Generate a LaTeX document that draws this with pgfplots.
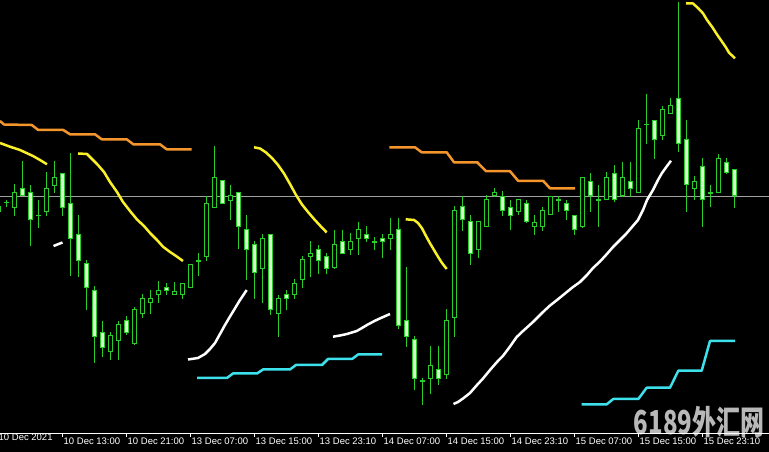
\documentclass[border=0pt]{standalone}
\usepackage{fontspec}
\setmainfont{Liberation Sans}
\newfontfamily\cjk{Noto Sans CJK SC}
\usepackage{graphicx}
\usepackage{pgfplots}
\usepackage{pgfplotstable}
\pgfplotsset{compat=1.18}
\definecolor{cgreen}{RGB}{40,205,40}
\definecolor{cpale}{RGB}{215,255,205}
\definecolor{lorange}{RGB}{245,150,45}
\definecolor{lyellow}{RGB}{250,240,40}
\definecolor{lcyan}{RGB}{60,225,235}
\definecolor{lgray}{RGB}{160,160,160}

% candles: x in px, o h l c as pixel rows from top
\pgfplotstableread{
x o h l c
-2 206.7 204 213 211.7
6 202.3 200 206.7 202.3
14 207.3 184.3 216 192.3
22 188.7 161.7 196 196
30 192.3 185 246 219.3
38 215.3 200 227.3 215.3
46 211.7 172.7 216 188.3
54 185.7 161.7 192.7 177.3
62 173.3 173.3 216 207.7
70 203.3 153.3 276 238.7
78 234.3 215 276.7 260.3
86 264 260 310 287.3
94 291 286.7 362.7 336.7
102 332.3 321.7 356.7 347.3
110 351.3 332.3 359.3 336
118 340.7 321 360 325
126 320.7 316.7 335 332.3
134 343.3 307 345 309.3
142 313.3 294.3 317.7 298.3
150 302.3 290 313.3 298.3
158 294.3 281.7 302.3 291
166 287.3 283.3 294.3 291
174 294.3 282.3 294.3 291.3
182 294.3 283.3 298.3 283.3
190 287.3 264.3 287.3 264.3
198 260.7 253.3 275.7 260.7
206 256.7 196.7 261 203.3
214 207.3 146.7 207.3 177.3
222 181 181 203.3 203.3
230 200.7 185 220 196
238 192.3 192.3 249 226.7
246 230 215 280 249.3
254 245 241.7 298.3 272.3
262 268.3 234.3 302.3 238.3
270 234.3 234.3 314.3 310
278 313.3 295 336.7 298.3
286 294.3 290 310 298.3
294 294.3 279 298.3 283.3
302 280 256.7 287.7 260
310 256.7 241.7 276.7 253.3
318 249.3 245 273.3 260.7
326 256.7 253.3 273.3 268.3
334 267.7 230 269 245
342 241.7 230 254 253.3
350 250 233.3 254.3 241.7
358 238.3 222.3 254.3 230
366 234.3 226.7 241.7 238.3
374 241.7 237.7 250 241.7
382 238.3 234 257.3 241.7
390 238.7 218.3 250 234.3
398 230 218.3 328.3 326
406 321 267.7 346.7 336.7
414 340 336 390 379
422 380.7 378.3 405 380.7
430 379 346.7 394 366
438 370 346.7 385 379
446 375 309.3 378.3 321
454 317.3 206.7 336.7 210.7
462 206.7 196.7 230.7 220
470 221.7 215 265 254
478 250 221.7 257.3 221.7
486 226.7 195 226.7 200
494 196 188.3 196.7 192.3
502 196.7 191.7 216 211
510 207.7 200 230 215.2
518 211.3 200 215 200
526 203.3 200.7 222.3 222
534 226.7 215 234.5 222.3
542 226.7 207 230.3 211
550 215 196.7 215 196.7
558 200 196.7 211.7 200
566 203.5 200 219.5 210.7
574 215.3 215.3 234.5 230
582 226.7 177 228 177.3
590 181.7 173 212 196
598 200 185 227 200
606 200 172.7 200 177.3
614 173.3 165 201.7 200
622 196 162 196.7 177.3
630 181.7 162 196.7 188.3
638 192.7 120 192.7 128.3
646 124.3 94.3 143.5 124.3
654 120.7 120.7 158.3 139.3
662 136 106 139.3 109.3
670 113.3 98.3 113.3 106
678 98.3 2.7 151.7 143.3
686 139.3 120 211.7 185
694 188.3 176.7 200 181.7
702 166.7 158.3 226.7 200
710 192.7 185 206.7 192.7
718 192.7 154 192.7 158.3
726 162.7 158.3 173.3 172.7
734 170 170 207.3 196
}\candles

\begin{document}
\begin{tikzpicture}
\path[use as bounding box, fill=black] (0pt,-19pt) rectangle (769pt,433pt);
\begin{axis}[
  at={(0pt,0pt)}, anchor=south west,
  width=769pt, height=433pt, scale only axis,
  xmin=0, xmax=769, ymin=0, ymax=433,
  clip mode=individual,
  axis y line=none,
  axis x line*=bottom,
  x axis line style={white, line width=0.8pt, -},
  xtick={62,126,190,254,318,382,446,510,574,638,702},
  xticklabels={10 Dec 13:00,10 Dec 21:00,13 Dec 07:00,13 Dec 15:00,13 Dec 23:10,14 Dec 07:00,14 Dec 15:00,14 Dec 23:10,15 Dec 07:00,15 Dec 15:00,15 Dec 23:10},
  extra x ticks={0},
  extra x tick labels={10 Dec 2021},
  extra x tick style={major tick length=0pt, xticklabel style={xshift=-3pt}},
  tick style={white, line width=0.8pt},
  major tick length=4pt, tick align=outside,
  xticklabel style={anchor=north west, text=white, font=\fontsize{9.5}{10}\selectfont, inner sep=0pt, xshift=1.5pt, yshift=-1pt},
]
% bid line
\addplot[lgray, line width=0.8pt, mark=none, forget plot] coordinates {(0,237) (769,237)};

% wicks
\addplot[forget plot, draw=none, mark=none,
  error bars/.cd, y dir=both, y explicit, error mark=none,
  error bar style={draw=cgreen, line width=1pt}]
  table[x=x, y expr={433-(\thisrow{h}+\thisrow{l})/2}, y error expr={(\thisrow{l}-\thisrow{h})/2+0.3}] {\candles};
% body outlines
\addplot[forget plot, draw=none, mark=none,
  error bars/.cd, y dir=both, y explicit, error mark=none,
  error bar style={draw=cgreen, line width=5pt}]
  table[x=x, y expr={433-(\thisrow{o}+\thisrow{c})/2}, y error expr={abs(\thisrow{c}-\thisrow{o})/2+0.5}] {\candles};
% bear bodies (filled)
\addplot[forget plot, draw=none, mark=none,
  restrict expr to domain={\thisrow{c}>\thisrow{o}}{0.5:1.5},
  error bars/.cd, y dir=both, y explicit, error mark=none,
  error bar style={draw=cpale, line width=3pt}]
  table[x=x, y expr={433-(\thisrow{o}+\thisrow{c})/2}, y error expr={abs(\thisrow{c}-\thisrow{o})/2-0.5}] {\candles};
% bull bodies (hollow)
\addplot[forget plot, draw=none, mark=none,
  restrict expr to domain={\thisrow{c}<\thisrow{o}}{0.5:1.5},
  error bars/.cd, y dir=both, y explicit, error mark=none,
  error bar style={draw=black, line width=3pt}]
  table[x=x, y expr={433-(\thisrow{o}+\thisrow{c})/2}, y error expr={abs(\thisrow{c}-\thisrow{o})/2-0.5}] {\candles};

% orange upper envelope
\addplot[lorange, line width=2.5pt, line join=round, mark=none, forget plot]
  table[x=x, y expr=433-\thisrow{y}, row sep=\\]{x y\\ 0 121\\ 4 124.5\\ 31.7 125\\ 38.3 130\\ 63.3 130\\ 70 134.3\\ 95 134.3\\ 101.7 139.3\\ 126.7 139.3\\ 133.3 144.3\\ 160 144.3\\ 166.7 149.3\\ 191.7 149.3\\};
\addplot[lorange, line width=2.5pt, line join=round, mark=none, forget plot]
  table[x=x, y expr=433-\thisrow{y}, row sep=\\]{x y\\ 389.3 147.3\\ 415 147.3\\ 421.7 152.3\\ 446.7 152.3\\ 454 162.3\\ 477.3 162.3\\ 486 171.2\\ 510 171.2\\ 518.3 181\\ 543.3 181\\ 550 188.3\\ 575 188.3\\};

% yellow
\addplot[lyellow, line width=2.5pt, line join=round, mark=none, forget plot]
  table[x=x, y expr=433-\thisrow{y}, row sep=\\]{x y\\ 0 143\\ 10 146.7\\ 20 150\\ 33 156\\ 40 160\\ 47 164.3\\};
\addplot[lyellow, line width=2.5pt, line join=round, mark=none, forget plot]
  table[x=x, y expr=433-\thisrow{y}, row sep=\\]{x y\\ 78 153.5\\ 87 154\\ 97 164\\ 104 172\\ 110 182\\ 117 192\\ 123 202\\ 130 211\\ 137 219.5\\ 144 226\\ 150 233\\ 157 240\\ 163 246.7\\ 170 252\\ 176 256\\ 183 261\\};
\addplot[lyellow, line width=2.5pt, line join=round, mark=none, forget plot]
  table[x=x, y expr=433-\thisrow{y}, row sep=\\]{x y\\ 254 147.3\\ 260 148.5\\ 266 152.5\\ 272 158\\ 278 165\\ 284 173.5\\ 290 184\\ 296 195\\ 302 204.5\\ 308 212\\ 314 219\\ 320 225.5\\ 326.7 232.5\\};
\addplot[lyellow, line width=2.5pt, line join=round, mark=none, forget plot]
  table[x=x, y expr=433-\thisrow{y}, row sep=\\]{x y\\ 405.7 219.3\\ 414 220\\ 418 223\\ 422 228.3\\ 426 236\\ 430 243.3\\ 434 250\\ 438 256.7\\ 442 263\\ 446.7 269\\};
\addplot[lyellow, line width=2.5pt, line join=round, mark=none, forget plot]
  table[x=x, y expr=433-\thisrow{y}, row sep=\\]{x y\\ 686 3.3\\ 693 3.5\\ 698 8\\ 703 13.3\\ 707 20\\ 712 26.7\\ 717 34.5\\ 722 41.7\\ 726 47.5\\ 729 52.7\\ 735 58.3\\};

% white
\addplot[white, line width=2.5pt, line join=round, mark=none, forget plot]
  table[x=x, y expr=433-\thisrow{y}, row sep=\\]{x y\\ 53.5 246\\ 62.5 242.5\\};
\addplot[white, line width=2.5pt, line join=round, mark=none, forget plot]
  table[x=x, y expr=433-\thisrow{y}, row sep=\\]{x y\\ 188 359.5\\ 198 358\\ 205 354\\ 210 349\\ 215 343\\ 220 334\\ 225 325\\ 230 316.5\\ 235 308.3\\ 240 300\\ 246.7 290\\};
\addplot[white, line width=2.5pt, line join=round, mark=none, forget plot]
  table[x=x, y expr=433-\thisrow{y}, row sep=\\]{x y\\ 333 336.7\\ 340 335.5\\ 347 334\\ 356.7 331\\ 362 328\\ 367 325\\ 375 320.7\\ 382 317.5\\ 390 314\\};
\addplot[white, line width=2.5pt, line join=round, mark=none, forget plot]
  table[x=x, y expr=433-\thisrow{y}, row sep=\\]{x y\\ 453.5 404\\ 458 402\\ 463 398.5\\ 470 393\\ 477 385\\ 483 378.5\\ 490 370\\ 497 362\\ 503.3 355.5\\ 510 346.5\\ 516.7 337\\ 523 331\\ 533 322\\ 543 312\\ 550 305.5\\ 557 300\\ 565 293.5\\ 573 287\\ 580 282\\ 587 275\\ 593 268\\ 600 261.5\\ 606 255\\ 613 247\\ 620 240\\ 626 234\\ 632 227\\ 638 220\\ 643 210\\ 647 200\\ 653 190\\ 658 180\\ 662 173\\ 667 166\\ 671 160.7\\};

% cyan lower envelope
\addplot[lcyan, line width=2.5pt, line join=round, mark=none, forget plot]
  table[x=x, y expr=433-\thisrow{y}, row sep=\\]{x y\\ 197 378\\ 227 378\\ 233 373.5\\ 257 373.5\\ 263 369.5\\ 290 369.5\\ 296 365\\ 322 365\\ 328 359\\ 352 359\\ 358 354.5\\ 382 354.5\\};
\addplot[lcyan, line width=2.5pt, line join=round, mark=none, forget plot]
  table[x=x, y expr=433-\thisrow{y}, row sep=\\]{x y\\ 581.7 404.3\\ 606.7 404.3\\ 613.3 399\\ 638.3 399\\ 646.7 387.7\\ 670 387.7\\ 678.3 370.7\\ 701.7 370.7\\ 710 341\\ 735 341\\};

\node[text=white, opacity=0.72, inner sep=0pt] at (axis cs:699,11) {\scalebox{0.8}[1.1]{\cjk\fontsize{30}{30}\selectfont\bfseries 6189外汇网}};
\end{axis}
\end{tikzpicture}
\end{document}
